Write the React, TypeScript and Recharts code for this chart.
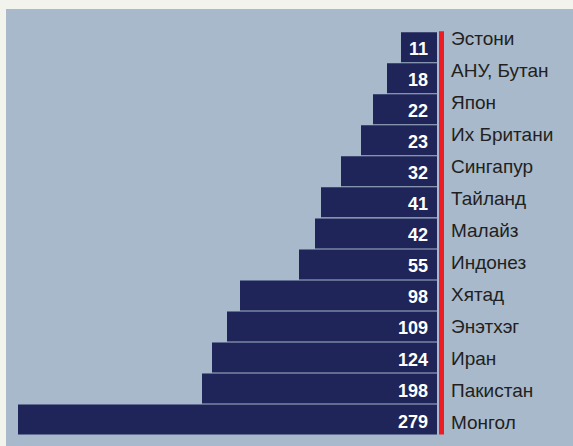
import { Bar, BarChart, LabelList, ReferenceArea, XAxis, YAxis } from "recharts";

// countries, top to bottom
const countries = [
  "Эстони",
  "АНУ, Бутан",
  "Япон",
  "Их Британи",
  "Сингапур",
  "Тайланд",
  "Малайз",
  "Индонез",
  "Хятад",
  "Энэтхэг",
  "Иран",
  "Пакистан",
  "Монгол",
];

// printed values
const values = [11, 18, 22, 23, 32, 41, 42, 55, 98, 109, 124, 198, 279];

// the picture's bars are not drawn to scale, so their lengths are read off separately
const drawnLength = [36, 50, 64, 76, 96, 116, 122, 138, 197, 210, 225, 235, 419];

const data = countries.map((country, i) => ({
  country,
  value: values[i],
  length: drawnLength[i],
}));

const FONT = "'Liberation Sans', Arial, sans-serif";

const ValueLabel = (props: any) => {
  const { x, y, width, height, index } = props;
  const right = Math.max(x, x + width);
  return (
    <text
      x={right - 9}
      y={y + height / 2 + 8}
      textAnchor="end"
      fill="#ffffff"
      fontFamily={FONT}
      fontWeight="bold"
      fontSize={18}
    >
      {values[index]}
    </text>
  );
};

const CountryTick = (props: any) => {
  const { x, y, payload } = props;
  return (
    <text x={x + 7} y={y + 6.5} fill="#231f20" fontFamily={FONT} fontSize={19}>
      {payload.value}
    </text>
  );
};

const App = () => {
  return (
    <div
      style={{
        position: "absolute",
        left: 0,
        top: 0,
        width: 573,
        height: 446,
        background: "#f3f3ee",
      }}
    >
      <div
        style={{
          position: "absolute",
          left: 6,
          top: 9,
          width: 567,
          height: 437,
          background: "#a7b9cb",
        }}
      >
        <BarChart
          width={567}
          height={437}
          data={data}
          layout="vertical"
          margin={{ top: 14, right: 0, left: 1, bottom: 7.4 }}
          barSize={30}
        >
          <XAxis type="number" dataKey="length" domain={[-7, 430]} reversed hide />
          <YAxis
            yAxisId="bars"
            type="category"
            dataKey="country"
            hide
            width={0}
            padding={{ top: 8.2, bottom: 4 }}
          />
          <YAxis
            yAxisId="labels"
            type="category"
            dataKey="country"
            orientation="right"
            width={129}
            axisLine={false}
            tickLine={false}
            tickSize={0}
            tickMargin={0}
            interval={0}
            tick={<CountryTick />}
          />
          <ReferenceArea
            yAxisId="bars"
            x1={-2}
            x2={-7}
            y1={countries[0]}
            y2={countries[countries.length - 1]}
            fill="#ed1c24"
            fillOpacity={1}
            stroke="none"
            ifOverflow="visible"
          />
          <Bar yAxisId="bars" dataKey="length" fill="#1f2559" isAnimationActive={false}>
            <LabelList dataKey="value" content={<ValueLabel />} />
          </Bar>
        </BarChart>
      </div>
    </div>
  );
};

export default App;
